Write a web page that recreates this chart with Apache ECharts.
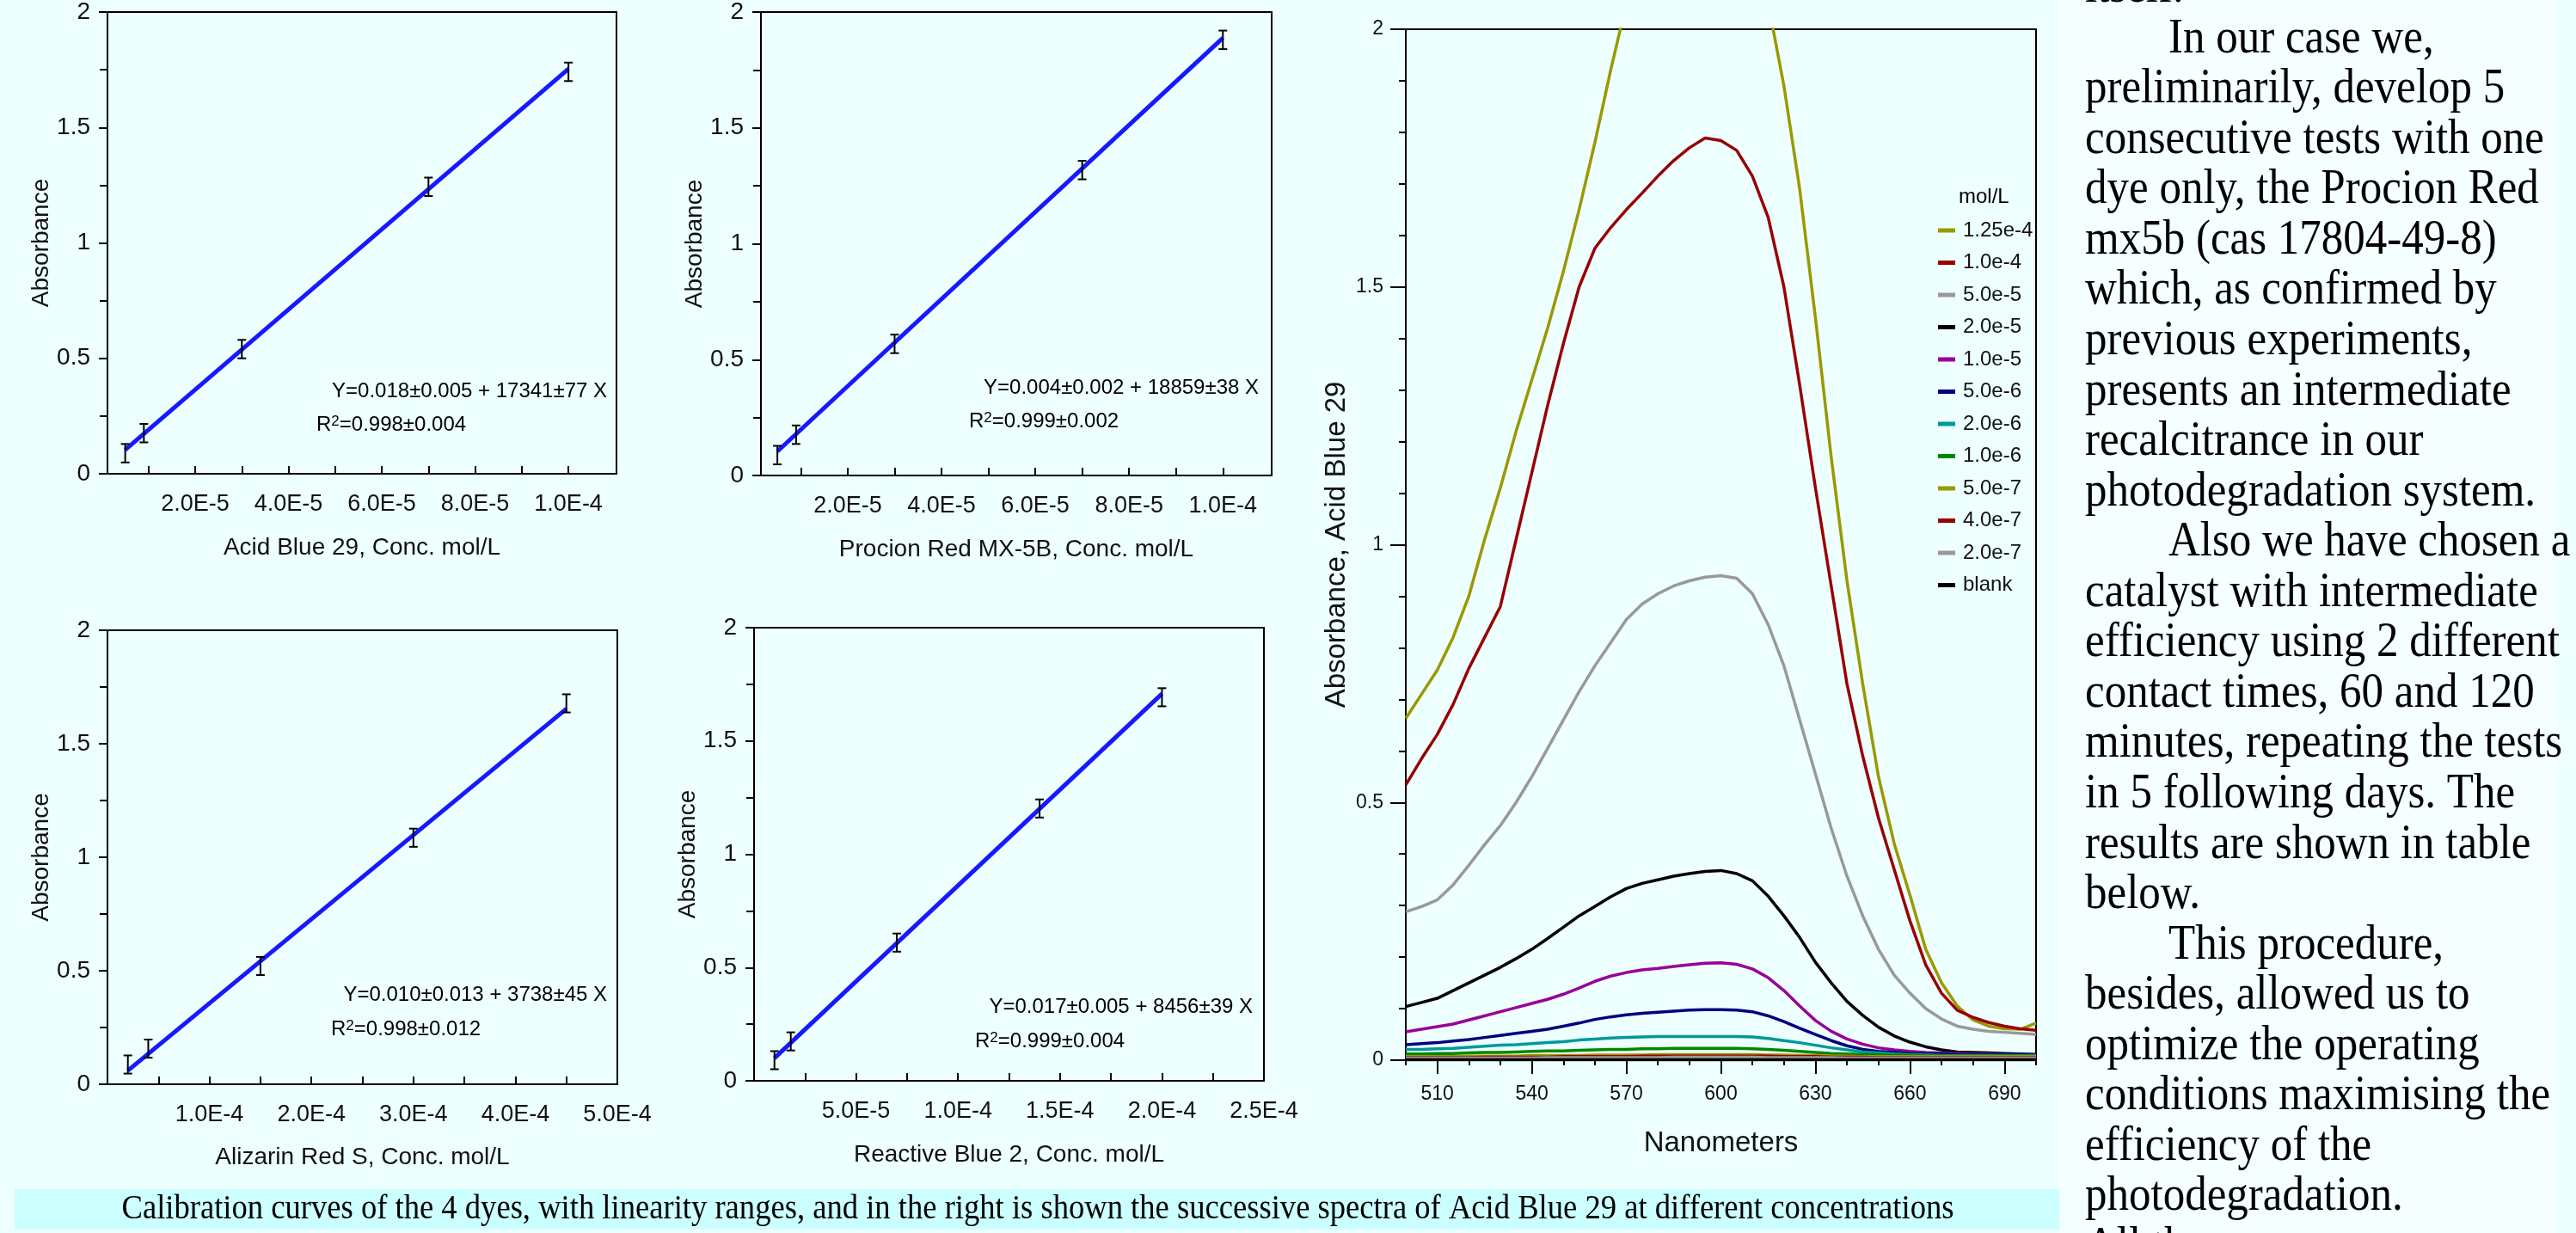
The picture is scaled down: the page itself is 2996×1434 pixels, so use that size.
<!DOCTYPE html>
<html><head><meta charset="utf-8">
<script src="https://cdn.jsdelivr.net/npm/echarts@6/dist/echarts.min.js"></script>
<style>html,body{margin:0;padding:0;background:#EEFFFF;overflow:hidden}#c{width:2996px;height:1434px}</style>
</head><body><div id="c"></div>
<script>
// ---------- Calibration data ----------
const ab29Conc = [5e-6, 9e-6, 3e-5, 7e-5, 1e-4];
const ab29Abs  = [0.089, 0.176, 0.540, 1.243, 1.741];
const ab29Err  = [0.04, 0.04, 0.04, 0.04, 0.04];
const ab29FitConc = [5e-6, 1e-4];
const ab29FitAbs  = [0.104, 1.754];

const prConc = [5e-6, 9e-6, 3e-5, 7e-5, 1e-4];
const prAbs  = [0.088, 0.176, 0.568, 1.318, 1.880];
const prErr  = [0.04, 0.04, 0.04, 0.04, 0.04];
const prFitConc = [5e-6, 1e-4];
const prFitAbs  = [0.104, 1.888];

const arsConc = [2e-5, 4e-5, 1.5e-4, 3e-4, 4.5e-4];
const arsAbs  = [0.087, 0.157, 0.521, 1.086, 1.678];
const arsErr  = [0.04, 0.04, 0.04, 0.04, 0.04];
const arsFitConc = [2e-5, 4.5e-4];
const arsFitAbs  = [0.060, 1.654];

const rb2Conc = [1e-5, 1.8e-5, 7e-5, 1.4e-4, 2e-4];
const rb2Abs  = [0.091, 0.174, 0.610, 1.202, 1.693];
const rb2Err  = [0.04, 0.04, 0.04, 0.04, 0.04];
const rb2FitConc = [1e-5, 2e-4];
const rb2FitAbs  = [0.100, 1.708];

// tick labels
const ab29Labels = [2e-5, 4e-5, 6e-5, 8e-5, 1e-4];
const ab29Ticks  = [1e-5, 2e-5, 3e-5, 4e-5, 5e-5, 6e-5, 7e-5, 8e-5, 9e-5, 1e-4];
const arsLabels = [1e-4, 2e-4, 3e-4, 4e-4, 5e-4];
const arsTicks  = [5e-5, 1e-4, 1.5e-4, 2e-4, 2.5e-4, 3e-4, 3.5e-4, 4e-4, 4.5e-4];
const rb2Labels = [5e-5, 1e-4, 1.5e-4, 2e-4, 2.5e-4];
const rb2Ticks  = [2.5e-5, 5e-5, 7.5e-5, 1e-4, 1.25e-4, 1.5e-4, 1.75e-4, 2e-4, 2.25e-4];
const nmLabels = [510, 540, 570, 600, 630, 660, 690];

// ---------- Spectra of Acid Blue 29 ----------
const wavelengths = [500,505,510,515,520,525,530,535,540,545,550,555,560,565,570,575,580,585,590,595,600,605,610,615,620,625,630,635,640,645,650,655,660,665,670,675,680,685,690,695,700];
const spec125e4 = [0.663,0.71,0.757,0.82,0.90,1.01,1.11,1.22,1.32,1.42,1.53,1.65,1.78,1.92,2.05,2.15,2.21,2.25,2.27,2.28,2.28,2.24,2.17,2.05,1.89,1.69,1.44,1.17,0.93,0.73,0.55,0.42,0.32,0.215,0.15,0.105,0.078,0.066,0.061,0.060,0.072];
const spec10e4  = [0.534,0.585,0.632,0.69,0.76,0.82,0.88,1.01,1.14,1.27,1.39,1.50,1.575,1.615,1.65,1.682,1.715,1.745,1.77,1.789,1.784,1.765,1.715,1.635,1.50,1.31,1.11,0.92,0.73,0.59,0.47,0.37,0.27,0.185,0.13,0.097,0.083,0.073,0.066,0.061,0.058];
const spec50e5  = [0.288,0.298,0.311,0.34,0.378,0.418,0.455,0.50,0.55,0.605,0.66,0.715,0.765,0.81,0.855,0.885,0.905,0.92,0.93,0.937,0.94,0.935,0.905,0.845,0.765,0.66,0.555,0.45,0.357,0.28,0.215,0.165,0.13,0.10,0.08,0.066,0.06,0.056,0.054,0.052,0.050];
const spec20e5  = [0.104,0.112,0.12,0.135,0.15,0.165,0.18,0.197,0.215,0.236,0.258,0.28,0.298,0.317,0.333,0.343,0.35,0.357,0.362,0.366,0.368,0.362,0.348,0.318,0.28,0.238,0.19,0.15,0.114,0.087,0.064,0.047,0.035,0.026,0.02,0.016,0.015,0.014,0.013,0.012,0.011];
const spec10e5  = [0.055,0.06,0.065,0.07,0.078,0.086,0.094,0.102,0.11,0.118,0.128,0.14,0.153,0.163,0.17,0.175,0.178,0.182,0.185,0.188,0.189,0.186,0.177,0.16,0.135,0.105,0.077,0.056,0.041,0.031,0.024,0.02,0.017,0.015,0.014,0.013,0.012,0.012,0.011,0.011,0.011];
const spec50e6  = [0.030,0.032,0.034,0.037,0.040,0.044,0.048,0.052,0.056,0.060,0.066,0.072,0.079,0.084,0.088,0.091,0.093,0.095,0.097,0.098,0.098,0.097,0.094,0.086,0.075,0.062,0.050,0.038,0.028,0.021,0.017,0.015,0.013,0.012,0.012,0.011,0.011,0.011,0.011,0.011,0.011];
const spec20e6  = [0.021,0.021,0.022,0.023,0.025,0.027,0.029,0.030,0.032,0.034,0.036,0.039,0.041,0.043,0.044,0.045,0.046,0.046,0.046,0.046,0.046,0.046,0.045,0.042,0.038,0.034,0.029,0.024,0.020,0.016,0.014,0.012,0.011,0.010,0.009,0.009,0.009,0.009,0.009,0.009,0.009];
const spec10e6  = [0.012,0.012,0.013,0.013,0.014,0.015,0.015,0.016,0.017,0.018,0.018,0.019,0.020,0.021,0.021,0.022,0.022,0.023,0.023,0.023,0.023,0.023,0.022,0.021,0.019,0.017,0.015,0.013,0.012,0.011,0.010,0.009,0.009,0.008,0.008,0.008,0.008,0.008,0.008,0.008,0.008];
const spec50e7  = [0.007,0.007,0.007,0.007,0.008,0.008,0.008,0.008,0.009,0.009,0.009,0.009,0.010,0.010,0.010,0.010,0.011,0.011,0.011,0.011,0.011,0.011,0.011,0.010,0.010,0.009,0.009,0.008,0.008,0.007,0.007,0.007,0.007,0.007,0.007,0.007,0.007,0.007,0.007,0.007,0.007];
const spec40e7  = [0.005,0.005,0.005,0.005,0.005,0.006,0.006,0.006,0.006,0.006,0.007,0.007,0.007,0.007,0.007,0.008,0.008,0.008,0.008,0.008,0.008,0.008,0.008,0.008,0.007,0.007,0.007,0.006,0.006,0.006,0.005,0.005,0.005,0.005,0.005,0.005,0.005,0.005,0.005,0.005,0.005];
const spec20e7  = [0.004,0.004,0.004,0.004,0.004,0.004,0.004,0.004,0.004,0.005,0.005,0.005,0.005,0.005,0.005,0.005,0.005,0.006,0.006,0.006,0.006,0.006,0.006,0.005,0.005,0.005,0.005,0.005,0.004,0.004,0.004,0.004,0.004,0.004,0.004,0.004,0.004,0.004,0.004,0.004,0.004];
const specBlank = [0.001,0.001,0.001,0.001,0.001,0.001,0.001,0.001,0.001,0.001,0.001,0.001,0.001,0.001,0.001,0.001,0.001,0.001,0.001,0.001,0.001,0.001,0.001,0.001,0.001,0.001,0.001,0.001,0.001,0.001,0.001,0.001,0.001,0.001,0.001,0.001,0.001,0.001,0.001,0.001,0.001];

const specNames  = ['1.25e-4','1.0e-4','5.0e-5','2.0e-5','1.0e-5','5.0e-6','2.0e-6','1.0e-6','5.0e-7','4.0e-7','2.0e-7','blank'];
const specValues = [spec125e4,spec10e4,spec50e5,spec20e5,spec10e5,spec50e6,spec20e6,spec10e6,spec50e7,spec40e7,spec20e7,specBlank];
const specColors = ['#999900','#990000','#999999','#000000','#990099','#000080','#009999','#008800','#999900','#990000','#999999','#000000'];

// ---------- texts ----------
const captionText = 'Calibration curves of the 4 dyes, with linearity ranges, and in the right is shown the successive spectra of Acid Blue 29 at different concentrations';
const bodyLines = [
  ['itself.', 0],
  ['In our case we,', 1],
  ['preliminarily, develop 5', 0],
  ['consecutive tests with one', 0],
  ['dye only, the Procion Red', 0],
  ['mx5b (cas 17804-49-8)', 0],
  ['which, as confirmed by', 0],
  ['previous experiments,', 0],
  ['presents an intermediate', 0],
  ['recalcitrance in our', 0],
  ['photodegradation system.', 0],
  ['Also we have chosen a', 1],
  ['catalyst with intermediate', 0],
  ['efficiency using 2 different', 0],
  ['contact times, 60 and 120', 0],
  ['minutes, repeating the tests', 0],
  ['in 5 following days. The', 0],
  ['results are shown in table', 0],
  ['below.', 0],
  ['This procedure,', 1],
  ['besides, allowed us to', 0],
  ['optimize the operating', 0],
  ['conditions maximising the', 0],
  ['efficiency of the', 0],
  ['photodegradation.', 0],
  ['All the', 0]
];

// ---------- build ----------
const F = 'Liberation Sans';
const TXT = '#111';
const fmtE = v => Number(v).toExponential(1).toUpperCase().replace('E+', 'E');

const grids = [
  {left:125, top:8, width:592, height:543},
  {left:885, top:11, width:594, height:542},
  {left:125, top:733, width:593, height:528},
  {left:877, top:730, width:593, height:527},
  {left:1635, top:34, width:733, height:1199},
  {left:1635, top:34, width:733, height:1199}
].map(g => Object.assign({show:true, borderColor:'#000', borderWidth:2, backgroundColor:'transparent'}, g));
grids[5].show = false;

function calX(gi, min, max, labels, ticks, name, nameGap) {
  return {type:'value', gridIndex:gi, min, max, name, nameLocation:'middle', nameGap,
    nameTextStyle:{fontFamily:F, fontSize:28, color:TXT},
    axisLine:{show:true, onZero:false, lineStyle:{color:'#000', width:2}},
    axisTick:{show:true, inside:true, length:9, customValues:ticks, lineStyle:{color:'#000', width:2}},
    axisLabel:{customValues:labels, formatter:v => fmtE(v), fontFamily:F, fontSize:27, color:TXT, margin:22},
    splitLine:{show:false}};
}
function calY(gi, nameGap) {
  return {type:'value', gridIndex:gi, min:0, max:2, interval:0.5, name:'Absorbance', nameLocation:'middle', nameGap, nameRotate:90,
    nameTextStyle:{fontFamily:F, fontSize:28, color:TXT},
    axisLine:{show:true, onZero:false, lineStyle:{color:'#000', width:2}},
    axisTick:{show:true, length:10, lineStyle:{color:'#000', width:2}},
    minorTick:{show:true, splitNumber:2, length:9, lineStyle:{color:'#000', width:2}},
    axisLabel:{fontFamily:F, fontSize:28, color:TXT, margin:20},
    splitLine:{show:false}, minorSplitLine:{show:false}};
}

const xAxes = [
  calX(0, 1.2e-6, 1.103e-4, ab29Labels, ab29Ticks, 'Acid Blue 29, Conc. mol/L', 72),
  calX(1, 1.5e-6, 1.104e-4, ab29Labels, ab29Ticks, 'Procion Red MX-5B, Conc. mol/L', 72),
  calX(2, 0, 5e-4, arsLabels, arsTicks, 'Alizarin Red S, Conc. mol/L', 71),
  calX(3, 0, 2.5e-4, rb2Labels, rb2Ticks, 'Reactive Blue 2, Conc. mol/L', 72),
  {type:'value', gridIndex:4, min:500, max:700, interval:10, name:'Nanometers', nameLocation:'middle', nameGap:80,
    nameTextStyle:{fontFamily:F, fontSize:33, color:TXT},
    axisLine:{show:true, onZero:false, lineStyle:{color:'#000', width:2}},
    axisTick:{show:true, length:6, lineStyle:{color:'#000', width:2}},
    axisLabel:{customValues:nmLabels, fontFamily:F, fontSize:23, color:TXT, margin:28},
    splitLine:{show:false}},
  {type:'value', gridIndex:5, min:500, max:700, position:'bottom',
    axisLine:{show:false}, axisLabel:{show:false}, splitLine:{show:false},
    axisTick:{show:true, length:16, customValues:nmLabels, lineStyle:{color:'#000', width:2}}}
];
const yAxes = [
  calY(0, 59), calY(1, 62), calY(2, 59), calY(3, 58),
  {type:'value', gridIndex:4, min:0, max:2, interval:0.5, name:'Absorbance, Acid Blue 29', nameLocation:'middle', nameGap:64, nameRotate:90,
    nameTextStyle:{fontFamily:F, fontSize:33, color:TXT},
    axisLine:{show:true, onZero:false, lineStyle:{color:'#000', width:2}},
    axisTick:{show:true, length:18, lineStyle:{color:'#000', width:2}},
    minorTick:{show:true, splitNumber:5, length:8, lineStyle:{color:'#000', width:2}},
    axisLabel:{fontFamily:F, fontSize:23, color:TXT, margin:26},
    splitLine:{show:false}, minorSplitLine:{show:false}},
  {type:'value', gridIndex:5, min:0, max:2, show:false}
];

function errBars(gi, xs, ys, es) {
  return {type:'custom', xAxisIndex:gi, yAxisIndex:gi, z:5,
    data: xs.map((x, i) => [x, ys[i], es[i]]),
    encode:{x:0, y:1},
    renderItem(params, api) {
      const x = api.value(0), y = api.value(1), e = api.value(2);
      const t = api.coord([x, y + e]), b = api.coord([x, y - e]);
      const w = 5, st = {stroke:'#000', lineWidth:2};
      return {type:'group', children:[
        {type:'line', shape:{x1:t[0], y1:t[1], x2:b[0], y2:b[1]}, style:st},
        {type:'line', shape:{x1:t[0]-w, y1:t[1], x2:t[0]+w, y2:t[1]}, style:st},
        {type:'line', shape:{x1:b[0]-w, y1:b[1], x2:b[0]+w, y2:b[1]}, style:st}
      ]};
    }};
}
function fitLine(gi, xs, ys) {
  return {type:'line', xAxisIndex:gi, yAxisIndex:gi, showSymbol:false, z:3,
    data: xs.map((x, i) => [x, ys[i]]),
    lineStyle:{color:'#1818ff', width:5}, itemStyle:{color:'#1818ff'}};
}

const series = [
  fitLine(0, ab29FitConc, ab29FitAbs), errBars(0, ab29Conc, ab29Abs, ab29Err),
  fitLine(1, prFitConc, prFitAbs),     errBars(1, prConc, prAbs, prErr),
  fitLine(2, arsFitConc, arsFitAbs),   errBars(2, arsConc, arsAbs, arsErr),
  fitLine(3, rb2FitConc, rb2FitAbs),   errBars(3, rb2Conc, rb2Abs, rb2Err)
];
specNames.forEach((n, k) => {
  series.push({type:'line', name:n, xAxisIndex:4, yAxisIndex:4, showSymbol:false, clip:true,
    data: wavelengths.map((w, i) => [w, specValues[k][i]]),
    lineStyle:{color:specColors[k], width:3.5}, itemStyle:{color:specColors[k]}});
});

// text helpers
function txt(x, y, s, size, align, family, extra) {
  return Object.assign({type:'text', x, y, silent:true, z:10,
    style:{text:s, font:size + 'px "' + (family || F) + '"', fill:'#000',
      align:align, textAlign:align, verticalAlign:'middle', textVerticalAlign:'middle'}}, extra || {});
}
function eqR(x, y, s) {
  return {type:'text', x, y, silent:true, z:10,
    style:{text:s, fill:'#000', align:'left', verticalAlign:'middle', textAlign:'left', textVerticalAlign:'middle',
      fontFamily:F, fontSize:24,
      rich:{s:{fontFamily:F, fontSize:17, verticalAlign:'top', fill:'#000'}, n:{fontFamily:F, fontSize:24, fill:'#000'}}}};
}

const ctx = document.createElement('canvas').getContext('2d');
ctx.font = '40px "Liberation Serif"';
const capScale = 2131 / ctx.measureText(captionText).width;

const graphic = [
  {type:'rect', shape:{x:2396, y:0, width:577, height:1434}, style:{fill:'#F5FFFF'}, z:-10, silent:true},
  {type:'rect', shape:{x:17, y:1383, width:2378, height:47}, style:{fill:'#CCFFFF'}, z:-9, silent:true},
  txt(1207, 1406, captionText, 40, 'center', 'Liberation Serif', {scaleX:capScale}),
  txt(706, 455, 'Y=0.018\u00b10.005 + 17341\u00b177 X', 24, 'right'),
  eqR(368, 494, '{n|R}{s|2}{n|=0.998\u00b10.004}'),
  txt(1464, 451, 'Y=0.004\u00b10.002 + 18859\u00b138 X', 24, 'right'),
  eqR(1127, 490, '{n|R}{s|2}{n|=0.999\u00b10.002}'),
  txt(706, 1157, 'Y=0.010\u00b10.013 + 3738\u00b145 X', 24, 'right'),
  eqR(385, 1197, '{n|R}{s|2}{n|=0.998\u00b10.012}'),
  txt(1457, 1171, 'Y=0.017\u00b10.005 + 8456\u00b139 X', 24, 'right'),
  eqR(1134, 1211, '{n|R}{s|2}{n|=0.999\u00b10.004}'),
  txt(2278, 229, 'mol/L', 24, 'left')
];
bodyLines.forEach((l, i) => {
  graphic.push(txt(l[1] ? 2522 : 2425, -12.7 + i * 58.56, l[0], 51, 'left', 'Liberation Serif', {scaleY:1.1}));
});

const chart = echarts.init(document.getElementById('c'), null, {renderer:'canvas', width:2996, height:1434});
chart.setOption({
  animation:false,
  backgroundColor:'#EEFFFF',
  grid:grids, xAxis:xAxes, yAxis:yAxes, series,
  legend:{orient:'vertical', left:2249, top:251, itemWidth:20, itemHeight:5, itemGap:13.5, icon:'rect', selectedMode:false,
    data:specNames, textStyle:{fontFamily:F, fontSize:24, color:TXT, padding:[0,0,0,4]}},
  graphic:{elements:graphic}
});
</script></body></html>
